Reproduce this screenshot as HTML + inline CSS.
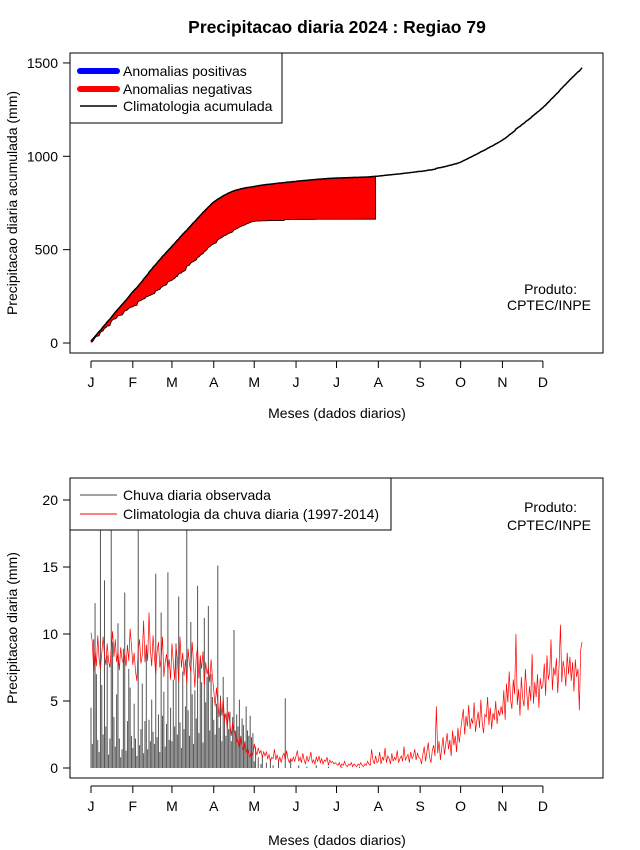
<!DOCTYPE html>
<html><head><meta charset="utf-8"><style>
body{margin:0;background:#fff}
svg{display:block;font-family:"Liberation Sans",Arial,sans-serif}
</style></head><body>
<svg id="chart" width="640" height="850" xmlns="http://www.w3.org/2000/svg">
<rect width="640" height="850" fill="#fff"/>
<text x="337" y="33" text-anchor="middle" font-size="17.5" font-weight="bold">Precipitacao diaria 2024 : Regiao 79</text>
<g id="topPanel"></g>
<g id="botPanel"></g>
</svg>
<script>
const months = ["J","F","M","A","M","J","J","A","S","O","N","D"];
const monthStartDays = [0,31,60,91,121,152,182,213,244,274,305,335];
const topTicks = [0,500,1000,1500];
const botTicks = [0,5,10,15,20];
const climDaily = [
10.1,9.4,7.2,8.8,7.6,9.9,8.1,7.4,8.6,9.8,8.4,7.7,9.3,8.0,7.5,8.9,10.2,8.3,9.6,7.9,8.7,7.3,9.0,8.1,7.8,8.5,7.6,9.2,8.0,10.4,9.1,
7.7,8.6,7.2,6.5,8.9,9.6,7.8,8.4,11.0,7.9,9.1,8.0,11.6,8.8,7.6,9.9,8.3,7.0,8.7,9.4,7.5,8.2,9.8,6.8,7.9,8.5,7.3,8.1,6.6,
9.3,7.9,6.6,9.1,8.2,6.4,9.8,7.5,8.6,6.9,8.1,6.3,8.9,7.7,7.2,9.4,7.8,6.0,8.3,9.0,6.7,8.4,7.4,8.7,6.2,7.9,7.0,7.5,6.4,8.1,6.8,
5.8,4.6,6.0,4.9,3.8,5.1,3.9,5.2,3.5,4.1,2.9,4.2,3.3,2.4,3.4,2.5,2.8,1.9,2.2,1.5,2.3,1.6,1.3,1.9,1.1,1.5,1.0,0.8,1.2,0.9,
1.8,1.3,1.0,1.5,1.1,1.3,0.8,1.2,0.9,1.2,0.7,1.0,0.5,0.8,0.7,1.4,0.6,1.0,0.5,0.8,0.4,0.9,1.1,0.6,1.3,0.7,0.4,0.7,0.5,0.8,0.5,
0.9,1.3,0.5,0.8,0.4,1.1,0.6,0.3,0.9,0.5,0.7,1.2,0.4,0.6,0.3,0.8,0.5,0.9,0.4,0.7,0.3,0.6,0.5,0.8,0.2,0.6,0.4,0.5,0.3,0.4,
0.3,0.2,0.4,0.1,0.3,0.2,0.5,0.2,0.1,0.3,0.2,0.4,0.1,0.3,0.2,0.1,0.3,0.2,0.4,0.2,0.1,0.3,0.2,0.5,0.3,0.2,1.4,0.6,0.3,0.9,0.4,
0.5,1.2,0.3,0.8,0.6,1.5,0.4,0.9,0.7,0.3,1.1,0.5,0.8,0.6,1.3,0.4,0.7,0.9,0.5,1.6,0.6,0.8,1.0,0.4,1.2,0.7,0.9,1.4,0.6,1.1,0.8,
0.7,0.3,1.0,1.6,0.5,1.2,1.9,0.8,0.4,1.3,1.7,0.9,4.6,1.1,2.0,0.6,1.5,2.3,1.0,1.8,2.6,1.4,2.1,0.9,2.8,1.7,2.4,1.2,3.0,1.9,
2.8,3.6,4.4,2.5,3.9,3.1,4.7,2.9,3.7,3.3,4.9,2.7,3.5,4.2,3.0,5.1,3.4,2.6,4.0,3.8,5.3,3.2,4.5,2.9,4.1,3.6,5.0,3.3,4.3,3.9,4.6,
4.0,5.8,3.6,6.3,4.9,7.2,5.1,4.4,6.6,5.5,10.0,4.7,5.9,3.9,6.8,5.2,4.6,7.4,5.7,4.3,6.1,5.0,8.5,4.8,6.4,5.3,7.0,4.5,6.7,5.9,
6.2,7.8,5.4,8.4,6.6,7.1,9.6,5.8,7.5,6.9,8.2,5.6,7.7,10.7,6.4,8.0,7.3,6.1,8.6,7.0,8.3,6.5,7.9,5.7,8.1,6.8,7.4,4.3,8.8,9.4];
const obsDaily = [
4.5,1.8,9.6,12.3,7.0,2.1,1.2,17.8,6.2,2.5,14.0,3.1,8.4,1.0,2.2,21,9.4,3.8,1.6,5.5,10.8,2.2,0.8,1.4,8.9,13.1,1.3,3.5,7.4,6.0,2.4,
1.5,4.8,2.2,0.9,21,1.7,2.9,6.3,1.1,3.5,9.2,1.4,3.6,2.0,5.1,2.7,1.8,14.5,2.3,4.0,1.2,11.6,3.9,5.7,1.6,3.3,14.6,2.1,4.5,
2.0,6.6,3.1,9.3,2.5,12.8,3.4,1.5,7.2,2.9,4.6,21,4.3,2.4,10.9,5.5,1.8,5.8,3.7,13.6,2.6,8.1,6.4,1.9,11.2,4.9,6.8,12.1,2.8,7.0,5.3,
3.6,2.5,4.8,15.1,3.0,5.4,2.0,6.8,4.0,2.4,5.3,2.9,4.2,2.0,3.8,10.3,2.6,4.0,3.1,5.1,2.4,3.7,3.2,2.0,4.6,2.8,2.4,3.9,2.3,2.6,
0.5,1.6,0,0.8,0,0.3,0.9,0,0,0.4,0,0,0.7,0,0.2,0,0,0,0.5,0,0,0,0,5.2,0,0,0,0.6,0,0,0,
0,0,0.2,0,0,0,0,0,0.1,0,0,0,0,0,0,0.2,0,0,0,0,0,0,0,0,0.1,0,0,0,0,0,
0,0,0,0,0.1,0,0,0,0,0,0,0,0,0,0,0,0,0.1,0,0,0,0,0,0,0,0,0,0,0,0];

const NS="http://www.w3.org/2000/svg";
function mk(parent,tag,attrs,text){const e=document.createElementNS(NS,tag);for(const k in attrs)e.setAttribute(k,attrs[k]);if(text!==undefined)e.textContent=text;parent.appendChild(e);return e;}
const xDay = d => 91 + d*1.349;
const yTop = v => 343 - v*0.1867;
const yBot = v => 768 - v*13.4;
const FS = 14;

function cum(a){let s=0;return a.map(v=>s+=v);}
const climCum = cum(climDaily), obsCum = cum(obsDaily);

function frame(g,y0,y1,axisY,labY,titleY,ticks,yf,ytitle,tname){
  const b=mk(g,'rect',{x:70,y:y0,width:533,height:y1-y0,fill:'none',stroke:'#000','stroke-width':1});
  
  
  const ax=mk(g,'line',{x1:xDay(0),x2:xDay(monthStartDays[11]),y1:axisY,y2:axisY,stroke:'#000'});
  
  
  months.forEach((m,i)=>{
    const x=xDay(monthStartDays[i]);
    mk(g,'line',{x1:x,x2:x,y1:axisY,y2:axisY+7,stroke:'#000'});
    const t=mk(g,'text',{x:x,y:labY,'text-anchor':'middle','font-size':FS},m);
    
    
  });
  const xt=mk(g,'text',{x:337,y:titleY,'text-anchor':'middle','font-size':FS},'Meses (dados diarios)');
  
  
  const ya=mk(g,'line',{x1:70,x2:70,y1:yf(ticks[0]),y2:yf(ticks[ticks.length-1]),stroke:'#000'});
  
  
  ticks.forEach(v=>{
    mk(g,'line',{x1:63,x2:70,y1:yf(v),y2:yf(v),stroke:'#000'});
    const t=mk(g,'text',{x:58,y:yf(v)+5,'text-anchor':'end','font-size':FS},String(v));
    
    
  });
  const cy=(y0+y1)/2;
  const yt=mk(g,'text',{x:17,y:cy,'text-anchor':'middle','font-size':FS,transform:`rotate(-90 17 ${cy})`},ytitle);
  
  
}

// TOP
const topG=document.getElementById('topPanel');
frame(topG,53,353,361,387,418,topTicks,yTop,'Precipitacao diaria acumulada (mm)','top');
const n=obsDaily.length;
for(let i=0;i<n-1;i++){
  const c0=climCum[i],c1=climCum[i+1],o0=obsCum[i],o1=obsCum[i+1];
  const col=(o0+o1)>=(c0+c1)?'#0000ff':'#ff0000';
  const p=mk(topG,'polygon',{points:`${xDay(i)},${yTop(c0)} ${xDay(i+1)},${yTop(c1)} ${xDay(i+1)},${yTop(o1)} ${xDay(i)},${yTop(o0)}`,fill:col,stroke:col,'stroke-width':0.6});
  
  
}
const ol=mk(topG,'polyline',{points:obsCum.map((v,i)=>`${xDay(i)},${yTop(v)}`).join(' '),fill:'none',stroke:'#000','stroke-width':0.8});


const edge=mk(topG,'line',{x1:xDay(n-1),x2:xDay(n-1),y1:yTop(climCum[n-1]),y2:yTop(obsCum[n-1]),stroke:'#000','stroke-width':0.8});


const cl=mk(topG,'polyline',{points:climCum.map((v,i)=>`${xDay(i)},${yTop(v)}`).join(' '),fill:'none',stroke:'#000','stroke-width':1.5});


const lg=mk(topG,'g',{});


mk(lg,'rect',{x:70,y:53,width:212,height:70,fill:'#fff',stroke:'#000'});
[['#0000ff',6,'Anomalias positivas',71],['#ff0000',6,'Anomalias negativas',89],['#000',1.5,'Climatologia acumulada',106]].forEach(e=>{
  const it=mk(lg,'g',{});
  
  
  mk(it,'line',{x1:80,x2:117,y1:e[3],y2:e[3],stroke:e[0],'stroke-width':e[1],'stroke-linecap':e[1]>3?'round':'butt'});
  mk(it,'text',{x:123,y:e[3]+5,'font-size':FS},e[2]);
});
const p1=mk(topG,'text',{x:577,y:294,'text-anchor':'end','font-size':FS},'Produto:');


const p2=mk(topG,'text',{x:591,y:310,'text-anchor':'end','font-size':FS},'CPTEC/INPE');



// BOTTOM
const botG=document.getElementById('botPanel');
frame(botG,478,778,786,811,845,botTicks,yBot,'Precipitacao diaria (mm)','bottom');
const cp=mk(botG,'clipPath',{id:'bclip'});
mk(cp,'rect',{x:70,y:478,width:533,height:300});
const bars=mk(botG,'g',{'clip-path':'url(#bclip)'});
obsDaily.forEach((v,i)=>{
  const b=mk(bars,'line',{x1:xDay(i),x2:xDay(i),y1:yBot(0),y2:yBot(v),stroke:'#555','stroke-width':1});
  
  
});
const cd=mk(bars,'polyline',{points:climDaily.map((v,i)=>`${xDay(i)},${yBot(v)}`).join(' '),fill:'none',stroke:'#ff0000','stroke-width':0.7});


const lg2=mk(botG,'g',{});


mk(lg2,'rect',{x:70,y:478,width:321,height:52,fill:'#fff',stroke:'#000'});
[['#444','Chuva diaria observada',495],['#ff0000','Climatologia da chuva diaria (1997-2014)',514]].forEach(e=>{
  const it=mk(lg2,'g',{});
  
  
  mk(it,'line',{x1:80,x2:117,y1:e[2],y2:e[2],stroke:e[0],'stroke-width':1});
  mk(it,'text',{x:123,y:e[2]+5,'font-size':FS},e[1]);
});
const p3=mk(botG,'text',{x:577,y:512,'text-anchor':'end','font-size':FS},'Produto:');


const p4=mk(botG,'text',{x:591,y:530,'text-anchor':'end','font-size':FS},'CPTEC/INPE');


</script>
</body></html>
